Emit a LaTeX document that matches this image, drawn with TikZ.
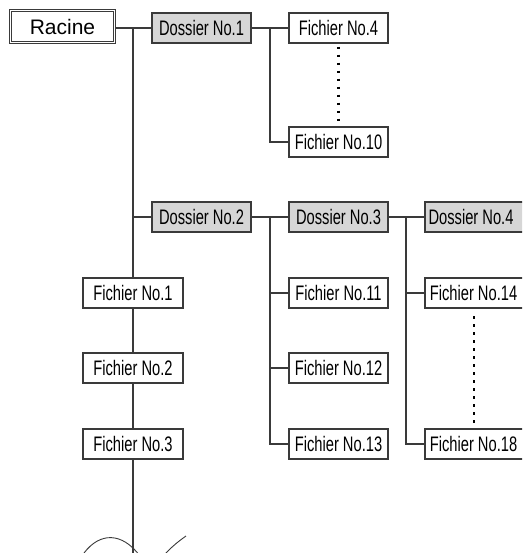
\documentclass[tikz,border=0pt]{standalone}
\usepackage{fontspec}
\setmainfont{Liberation Sans}
\newfontfamily\narrowfont[FakeStretch=0.70]{Liberation Sans}
\definecolor{linec}{HTML}{3A3A3A}
\definecolor{dosfill}{HTML}{D6D6D6}
\begin{document}
\begin{tikzpicture}[x=1pt,y=-1pt,
  conn/.style={draw=linec,line width=1.2pt},
  dotline/.style={draw=black,line width=2.8pt,dash pattern=on 2.6pt off 5.4pt},
  ficbox/.style={draw=linec,line width=1.2pt,fill=white,minimum width=99pt,minimum height=30pt,inner sep=0pt,font=\narrowfont\fontsize{21}{21}\selectfont},
  dosbox/.style={ficbox,line width=2pt,fill=dosfill},
  edgebox/.style={minimum width=106pt},
  rootbox/.style={draw=linec,line width=1.1pt,double=white,double distance=1.6pt,minimum width=104pt,minimum height=32pt,inner sep=0pt,font=\fontsize{21}{21}\selectfont}]
\useasboundingbox (0,0) rectangle (522,553);
\clip (0,0) rectangle (522,553);
% nodes
\node[rootbox] (racine) at (62.5,26.5) {Racine};
\node[dosbox] (dos1) at (201.5,28) {Dossier No.1};
\node[ficbox] (f4) at (338.5,28) {Fichier No.4};
\node[ficbox] (f10) at (338.5,142) {Fichier No.10};
\node[dosbox] (dos2) at (201.5,217) {Dossier No.2};
\node[dosbox] (dos3) at (338.5,217) {Dossier No.3};
\node[dosbox,edgebox] (dos4) at (478,217) {\hspace*{-14pt}Dossier No.4};
\node[ficbox,minimum width=100pt] (f1) at (133,293) {Fichier No.1};
\node[ficbox,minimum width=100pt] (f2) at (133,368) {Fichier No.2};
\node[ficbox,minimum width=100pt] (f3) at (133,444) {Fichier No.3};
\node[ficbox] (f11) at (338.5,293) {Fichier No.11};
\node[ficbox] (f12) at (338.5,368) {Fichier No.12};
\node[ficbox] (f13) at (338.5,444) {Fichier No.13};
\node[ficbox,edgebox] (f14) at (478,293) {\hspace*{-9pt}Fichier No.14};
\node[ficbox,edgebox] (f18) at (478,444) {\hspace*{-9pt}Fichier No.18};
% junctions
\coordinate (j0) at (133,28);
\coordinate (j1) at (270,28);
\coordinate (j2) at (270,217);
\coordinate (j3) at (406,217);
\coordinate (bottom) at (133,560);
\coordinate (d1) at (474,316);
\coordinate (d2) at (474,427);
% connectors
\path[conn] (racine.east |- j0) -- (dos1.west);
\path[conn] (j0) -- (f1.north);
\path[conn] (j0 |- dos2.west) -- (dos2.west);
\path[conn] (f1.south) -- (f2.north);
\path[conn] (f2.south) -- (f3.north);
\path[conn] (f3.south) -- (bottom);
\path[conn] (dos1.east) -- (f4.west);
\path[conn] (j1) |- (f10.west);
\path[conn] (dos2.east) -- (dos3.west);
\path[conn] (j2) |- (f13.west);
\path[conn] (j2 |- f11.west) -- (f11.west);
\path[conn] (j2 |- f12.west) -- (f12.west);
\path[conn] (dos3.east) -- (dos4.west);
\path[conn] (j3) |- (f18.west);
\path[conn] (j3 |- f14.west) -- (f14.west);
\path[dotline] ([yshift=-3pt]f4.south) -- ([yshift=2pt]f10.north);
\path[dotline] (d1) -- (d2);
% break mark
\draw[linec,line width=0.9pt] (84,553) .. controls (100,532) and (122,532) .. (140,556);
\draw[linec,line width=0.9pt] (160,560) .. controls (168,550) and (176,543) .. (186,536);
\end{tikzpicture}
\end{document}
